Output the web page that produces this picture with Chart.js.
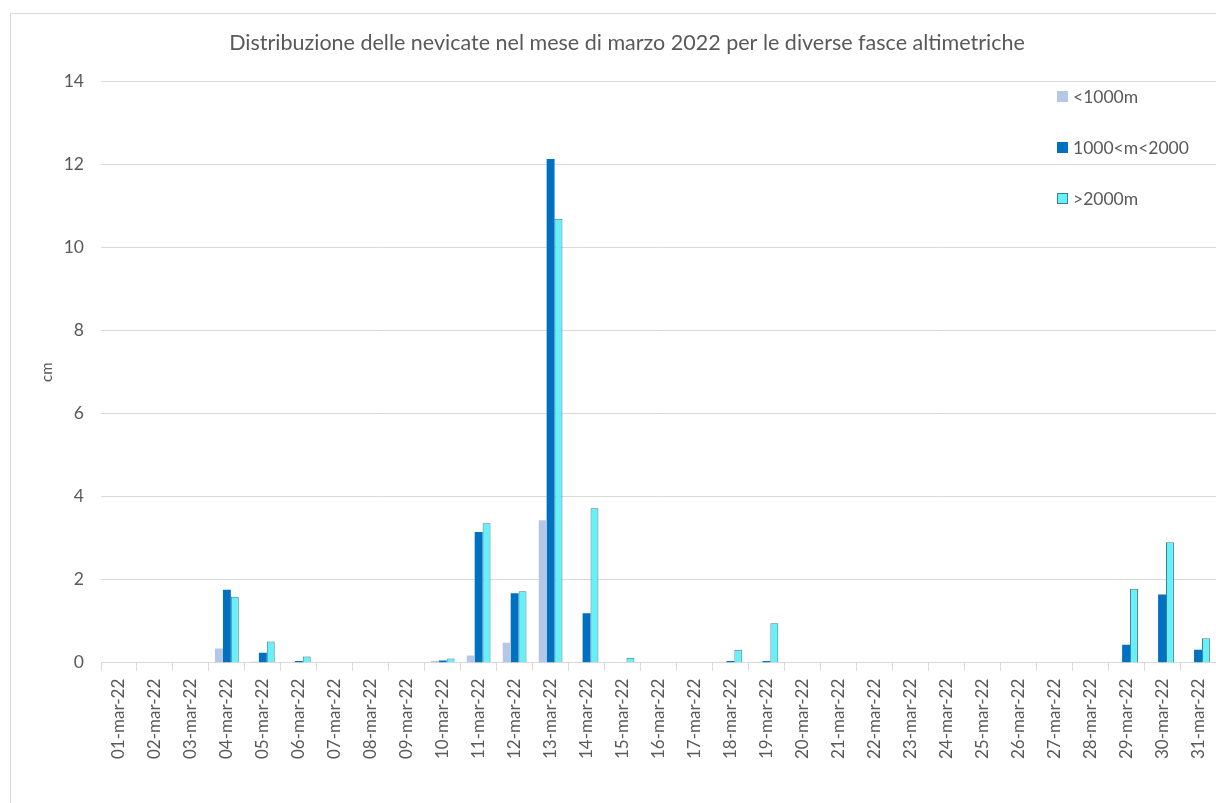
<!DOCTYPE html>
<html>
<head>
<meta charset="utf-8">
<script src="https://cdn.jsdelivr.net/npm/chart.js@4.4.1/dist/chart.umd.min.js"></script>
<style>
  html, body { margin: 0; padding: 0; background: #fff; }
  #frame {
    position: absolute; left: 10px; top: 13px; width: 1300px; height: 900px;
    border: 1px solid #d9d9d9; box-sizing: border-box;
  }
  #wrap { position: absolute; left: 0; top: 0; width: 1216px; height: 803px; }
</style>
</head>
<body>
<div id="frame"></div>
<div id="wrap"><canvas id="chart"></canvas></div>
<script>
// giorni del mese
const days = [
  '01-mar-22', '02-mar-22', '03-mar-22', '04-mar-22', '05-mar-22', '06-mar-22',
  '07-mar-22', '08-mar-22', '09-mar-22', '10-mar-22', '11-mar-22', '12-mar-22',
  '13-mar-22', '14-mar-22', '15-mar-22', '16-mar-22', '17-mar-22', '18-mar-22',
  '19-mar-22', '20-mar-22', '21-mar-22', '22-mar-22', '23-mar-22', '24-mar-22',
  '25-mar-22', '26-mar-22', '27-mar-22', '28-mar-22', '29-mar-22', '30-mar-22',
  '31-mar-22'
];

// neve (cm) per fascia altimetrica
const lowSnow  = [0, 0, 0, 0.34, 0.02, 0, 0, 0, 0, 0.04, 0.17, 0.48, 3.43, 0, 0, 0,
                  0, 0, 0, 0, 0, 0, 0, 0, 0, 0, 0, 0, 0, 0, 0];
const midSnow  = [0, 0, 0, 1.76, 0.24, 0.04, 0, 0, 0, 0.05, 3.15, 1.67, 12.14, 1.19, 0, 0,
                  0, 0.04, 0.04, 0, 0, 0, 0, 0, 0, 0, 0, 0, 0.43, 1.64, 0.31];
const highSnow = [0, 0, 0, 1.59, 0.51, 0.15, 0, 0, 0, 0.10, 3.36, 1.72, 10.7, 3.72, 0.12, 0,
                  0, 0.31, 0.95, 0, 0, 0, 0, 0, 0, 0, 0, 0, 1.78, 2.9, 0.59];

const seriesNames = ['<1000m', '1000<m<2000', '>2000m'];
const yTicks = [0, 2, 4, 6, 8, 10, 12, 14];

const textColor = '#595959';
const gridColor = '#d9d9d9';
const fontFamily = 'Lato, "Open Sans", sans-serif';

// legenda disegnata sopra l'area del grafico, come nell'originale
const overlayLegend = {
  id: 'overlayLegend',
  afterDraw(chart) {
    const ctx = chart.ctx;
    const x = 1057, y0 = 96, step = 51;
    ctx.save();
    ctx.font = '17.5px ' + fontFamily;
    ctx.textBaseline = 'middle';
    chart.data.datasets.forEach((ds, i) => {
      const y = y0 + i * step;
      ctx.fillStyle = ds.backgroundColor;
      ctx.fillRect(x, y - 5, 11, 11);
      if (ds.borderWidth) {
        ctx.strokeStyle = ds.borderColor;
        ctx.lineWidth = 1;
        ctx.strokeRect(x + 0.5, y - 4.5, 10, 10);
      }
      ctx.fillStyle = textColor;
      ctx.fillText(ds.label, x + 16, y + 1);
    });
    ctx.restore();
  }
};

new Chart(document.getElementById('chart'), {
  type: 'bar',
  data: {
    labels: days,
    datasets: [{
      label: seriesNames[0],
      data: lowSnow,
      backgroundColor: '#b4c7e7',
      borderWidth: 0
    }, {
      label: seriesNames[1],
      data: midSnow,
      backgroundColor: '#0070c0',
      borderWidth: 0
    }, {
      label: seriesNames[2],
      data: highSnow,
      backgroundColor: '#66f0f7',
      borderColor: '#3d7f8c',
      borderWidth: 1
    }]
  },
  options: {
    responsive: true,
    maintainAspectRatio: false,
    animation: false,
    layout: { padding: { left: 38, right: 0, top: 0, bottom: 36 } },
    datasets: {
      bar: { barPercentage: 1, categoryPercentage: 0.66 }
    },
    plugins: {
      legend: { display: false },
      tooltip: { enabled: false },
      title: {
        display: true,
        text: 'Distribuzione delle nevicate nel mese di marzo 2022 per le diverse fasce altimetriche',
        color: textColor,
        font: { family: fontFamily, size: 21.5, weight: 'normal' },
        padding: { top: 30, bottom: 26 }
      }
    },
    scales: {
      x: {
        afterFit(scale) {
          // il grafico originale arriva fino al bordo destro
          scale.paddingLeft = 0;
          scale.paddingRight = 0;
        },
        grid: {
          display: true,
          drawOnChartArea: false,
          drawTicks: true,
          tickLength: 8,
          color: gridColor
        },
        border: { display: true, color: gridColor },
        ticks: {
          autoSkip: false,
          minRotation: 90,
          maxRotation: 90,
          padding: 8,
          color: textColor,
          font: { family: fontFamily, size: 17 }
        }
      },
      y: {
        min: 0,
        max: 14,
        afterBuildTicks(scale) {
          scale.ticks = yTicks.map(v => ({ value: v }));
        },
        afterFit(scale) {
          scale.width = 63;
        },
        grid: { color: gridColor, drawTicks: false },
        border: { display: false },
        ticks: {
          padding: 17,
          color: textColor,
          font: { family: fontFamily, size: 17.5 }
        },
        title: {
          display: true,
          text: 'cm',
          color: textColor,
          font: { family: fontFamily, size: 15 },
          padding: { top: 0, bottom: 0 }
        }
      }
    }
  },
  plugins: [overlayLegend]
});
</script>
</body>
</html>
